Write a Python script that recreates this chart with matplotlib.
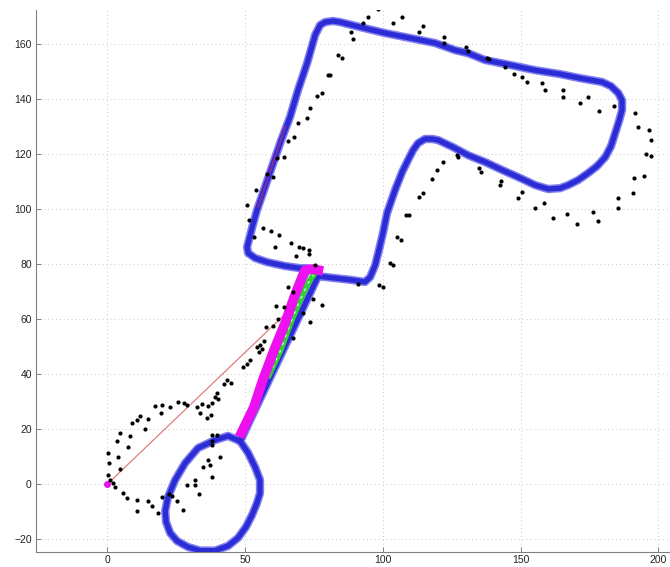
import numpy as np
import matplotlib
matplotlib.use('Agg')
import matplotlib.pyplot as plt

plt.rcParams['font.family'] = ['Liberation Sans', 'DejaVu Sans']

# estimated trajectory (blue)
traj_x = [48.2, 76.5, 82.6, 88.8, 93.5, 95.4, 97.2, 98.3, 100.1, 101.5, 104.4, 107.0, 109.1, 111.0,
          112.8, 115.3, 117.9, 120.0, 125.5, 130.9, 137.1, 143.3, 149.8, 155.3, 160.0, 164.3, 167.2,
          170.8, 174.5, 177.7, 180.7, 182.8, 184.3, 185.7, 186.8, 186.8, 185.4, 182.8, 179.6, 171.6,
          164.3, 155.3, 146.2, 137.1, 130.9, 126.2, 118.9, 109.9, 100.8, 91.7, 84.5, 81.9, 79.0, 77.2,
          75.4, 72.5, 69.2, 66.3, 63.1, 60.2, 57.2, 54.3, 52.5, 50.7, 51.1, 53.6, 58.0, 64.5, 70.0,
          72.5, 48.2,
          43.8, 39.1, 32.9, 28.2, 24.6, 22.0, 21.0, 21.3, 22.8, 25.3, 29.3, 33.6, 39.1, 43.8, 47.4,
          50.3, 52.5, 54.3, 55.4, 55.4, 53.6, 51.1, 48.2]
traj_y = [15.6, 75.6, 74.9, 74.2, 73.5, 75.3, 79.6, 84.0, 91.6, 98.5, 106.9, 113.5, 117.8, 121.5,
          124.0, 125.5, 125.5, 125.1, 122.5, 119.6, 117.1, 114.2, 111.3, 108.7, 107.3, 107.6, 108.7,
          110.5, 113.1, 115.6, 118.9, 122.9, 127.6, 132.0, 136.0, 139.6, 142.2, 144.7, 146.2, 147.6,
          149.1, 150.5, 152.4, 154.2, 156.7, 157.8, 160.4, 162.2, 164.0, 166.2, 168.0, 168.4, 168.0, 166.9,
          163.3, 153.1, 143.3, 133.5, 125.1, 116.7, 108.0, 99.6, 93.1, 86.2, 84.0, 82.2, 80.7, 79.3, 78.5,
          78.5, 15.6,
          17.5, 16.0, 13.1, 7.6, 1.5, -4.7, -9.8, -13.8, -17.8, -20.7, -22.9, -24.2, -24.2, -22.5, -19.6,
          -15.6, -11.3, -6.9, -3.3, 1.5, 6.2, 11.3, 15.6]

# corrected segment (magenta)
corr_x = [47.9, 53.2, 56.4, 60.5, 64.5, 67.8, 70.7, 71.8, 74.3, 78.3]
corr_y = [17.1, 28.0, 37.8, 48.7, 58.5, 68.0, 75.3, 77.8, 78.2, 77.5]

# green segment
green_x = [58.6, 62.9, 66.2, 69.9, 72.9, 74.8]
green_y = [39.5, 48.7, 57.8, 66.9, 73.1, 76.0]

# loop closure link (red) and purple overlay
link_x = [0.0, 64.5]
link_y = [0.0, 61.8]
purple_x = [64.5, 54.7]
purple_y = [129.8, 100.7]

# landmark observations (black)
obs_x = [98.4, 94.7, 92.9, 88.3, 89.1, 83.8, 85.1, 79.9, 80.8, 77.8, 76.2, 73.6, 72.4, 103.8, 106.9,
         114.5, 113.2, 122.0, 122.0, 130.1, 130.8, 137.7, 138.5, 144.4, 147.6, 150.4, 152.2, 157.7,
         158.9, 165.5, 165.5, 171.6, 174.4, 178.6, 183.7, 191.5, 192.7, 196.6, 197.4, 195.4, 197.4,
         194.9, 191.3, 190.6, 185.3, 185.3, 178.2, 176.4, 170.4, 166.8, 161.9, 158.3, 155.2, 150.4,
         149.0, 142.9, 142.6, 134.9, 135.5, 127.4, 126.8, 121.7, 119.6, 117.7, 114.7, 113.1, 109.3,
         108.5, 105.3, 106.7, 102.4, 103.5, 98.7, 100.0, 91.0,
         69.1, 67.9, 65.7, 64.1, 61.5, 57.9, 60.0, 54.0, 50.8, 51.5, 53.2, 56.6, 59.3, 62.4, 60.9,
         66.6, 69.7, 71.1, 73.0, 73.0, 68.5, 75.4,
         65.4, 67.2, 61.1, 64.0, 61.9, 60.1, 57.4, 56.9, 55.4, 54.2, 56.0, 55.2, 51.8, 50.6, 49.4,
         43.4, 44.9, 42.2, 74.8, 77.8, 71.1, 73.6, 67.5,
         39.7, 39.1, 40.3, 37.9, 36.7, 34.3, 32.4, 33.6, 37.6, 36.1, 28.8, 27.9, 25.8, 22.8, 19.7,
         17.3, 19.5, 14.9, 11.9, 10.7, 9.1, 13.7, 4.6, 8.2, 3.4, 7.6, 0.4, 3.8, 0.6, 4.6, 0.4, 1.0,
         2.2, 2.8, 5.8, 7.0, 10.7, 14.9, 19.7, 23.4, 22.4, 28.8, 31.8, 31.8, 37.9, 34.8, 37.3, 36.7,
         40.9, 37.9, 37.9, 37.9, 39.7, 10.7, 16.1, 18.5, 25.2, 27.4, 33.4]
obs_y = [172.6, 169.9, 167.7, 164.3, 161.7, 156.0, 154.8, 148.7, 148.7, 142.3, 141.1, 136.8, 133.3,
         167.7, 169.9, 166.5, 164.5, 162.4, 160.5, 158.8, 157.6, 154.8, 154.4, 151.5, 149.3, 148.1,
         146.3, 145.7, 143.3, 143.3, 140.6, 138.7, 140.8, 135.7, 137.5, 134.8, 129.7, 128.7, 125.1,
         119.9, 119.3, 112.0, 111.2, 105.9, 104.1, 100.3, 95.7, 98.8, 94.5, 98.1, 96.6, 102.1, 100.3,
         106.3, 104.1, 110.2, 108.7, 114.8, 113.6, 119.0, 119.6, 117.2, 114.1, 110.9, 105.9, 104.5,
         97.8, 97.8, 89.7, 88.7, 80.5, 79.7, 72.4, 71.5, 72.7,
         131.2, 126.3, 124.8, 119.0, 118.7, 112.7, 111.5, 106.9, 101.6, 96.0, 89.9, 93.3, 92.1, 90.5,
         86.3, 87.7, 86.1, 85.7, 85.1, 83.6, 82.9, 79.6,
         71.5, 69.9, 64.6, 64.3, 59.9, 57.3, 57.0, 52.0, 50.5, 49.9, 49.0, 48.1, 45.1, 43.5, 42.5,
         37.8, 36.6, 36.5, 67.2, 65.1, 62.1, 58.9, 53.0,
         33.2, 31.5, 30.8, 29.3, 28.4, 29.0, 28.1, 25.9, 25.1, 23.9, 28.7, 29.3, 29.9, 27.9, 28.7,
         28.4, 25.9, 23.5, 24.7, 23.3, 22.3, 19.9, 18.4, 17.5, 15.6, 13.3, 11.2, 9.7, 7.5, 5.3, 3.3, 1.5,
         0.3, -1.2, -3.4, -5.2, -5.8, -6.1, -4.8, -4.4, -3.6, -0.4, 1.5, -0.4, 2.7, 6.3, 6.9, 8.7,
         9.7, 14.2, 15.7, 17.8, 17.8, -9.7, -7.9, -10.7, -6.1, -9.5, -3.6]

xticks = [0, 50, 100, 150, 200]
yticks = [-20, 0, 20, 40, 60, 80, 100, 120, 140, 160]

fig = plt.figure(figsize=(6.7, 5.67), dpi=100)
ax = fig.add_axes([36 / 670, 15.3 / 567, 1 - 36 / 670, 541.7 / 567])

ax.plot(link_x, link_y, color='#e07070', lw=0.8, zorder=2)
ax.plot(traj_x, traj_y, color='#7f7ff0', lw=6, solid_joinstyle='round', solid_capstyle='round', zorder=3)
ax.plot(traj_x, traj_y, color='#2c2cd6', lw=3.8, solid_joinstyle='round', zorder=3)
ax.plot(purple_x, purple_y, color='#8a2a9a', lw=1.4, zorder=3)
ax.plot(green_x, green_y, color='#30d030', lw=4.2, zorder=4)
ax.plot(green_x, green_y, color='#c8ffc8', lw=1, ls=(0, (2, 4)), zorder=4)
ax.plot(corr_x, corr_y, color='#ee10ee', lw=7, solid_joinstyle='round', solid_capstyle='butt', zorder=5)
ax.plot([0], [0], 'o', color='#ee10ee', ms=4, zorder=5)
ax.plot(obs_x, obs_y, 'o', color='black', ms=3, mew=0, zorder=6)

ax.set_xlim(-25.9, 204.2)
ax.set_ylim(-24.6, 172.4)
ax.set_xticks(xticks)
ax.set_yticks(yticks)
ax.grid(True, color='#c8c8c8', lw=0.7, ls=(0, (1, 3)))
ax.set_axisbelow(True)
for s in ['top', 'right']:
    ax.spines[s].set_visible(False)
for s in ['left', 'bottom']:
    ax.spines[s].set_color('#808080')
    ax.spines[s].set_linewidth(0.8)
ax.tick_params(direction='in', length=3.5, width=0.7, color='#808080', labelsize=7.5,
               labelcolor='#222222')
ax.tick_params(axis='x', pad=2.5)
ax.tick_params(axis='y', pad=3)

fig.savefig('out.png', dpi=100)
